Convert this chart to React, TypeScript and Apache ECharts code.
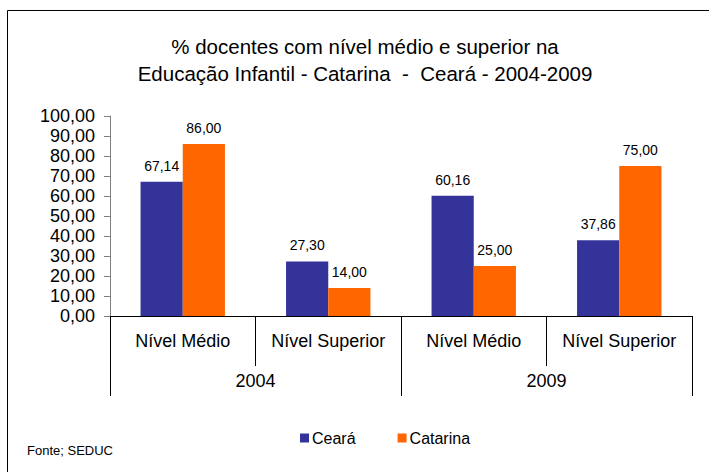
import React, { useEffect, useRef } from "react";
import * as echarts from "echarts";

const levels = ["Nível Médio", "Nível Superior", "Nível Médio", "Nível Superior"];
const years = ["2004", "2009"];
const ceara = [67.14, 27.3, 60.16, 37.86];
const catarina = [86.0, 14.0, 25.0, 75.0];
const seriesNames = ["Ceará", "Catarina"];
const titleLines = [
  "% docentes com nível médio e superior na",
  "Educação Infantil - Catarina  -  Ceará - 2004-2009",
];
const sourceNote = "Fonte; SEDUC";

const fmt = (v: number) => v.toFixed(2).replace(".", ",");
const FONT = "'Liberation Sans', Arial, sans-serif";

export default function App() {
  const ref = useRef<HTMLDivElement>(null);
  useEffect(() => {
    if (!ref.current) return;
    const chart = echarts.init(ref.current, undefined, { renderer: "svg" });
    const labelCfg = {
      show: true,
      position: "top" as const,
      distance: 9,
      fontSize: 14,
      fontFamily: FONT,
      color: "#000",
      formatter: (p: any) => fmt(p.value),
    };
    chart.setOption({
      animation: false,
      textStyle: { fontFamily: FONT },
      grid: { left: 110, right: 17, top: 116, bottom: 156, containLabel: false },
      legend: {
        data: seriesNames,
        left: 295,
        top: 425,
        itemWidth: 9,
        itemHeight: 9,
        itemGap: 42,
        icon: "rect",
        textStyle: { fontSize: 16, fontFamily: FONT, color: "#000", padding: [0, 0, 0, -2] },
      },
      xAxis: [
        {
          type: "category",
          data: levels,
          position: "bottom",
          axisLine: { show: true, lineStyle: { color: "#000", width: 1 } },
          axisTick: { show: true, length: 50, interval: 0, lineStyle: { color: "#000" } },
          axisLabel: { fontSize: 18, color: "#000", fontFamily: FONT, margin: 16, interval: 0 },
        },
        {
          type: "category",
          data: years,
          position: "bottom",
          axisLine: { show: false },
          axisTick: { show: true, length: 80, interval: 0, lineStyle: { color: "#000" } },
          axisLabel: { fontSize: 18, color: "#000", fontFamily: FONT, margin: 56, interval: 0 },
        },
      ],
      yAxis: {
        type: "value",
        min: 0,
        max: 100,
        interval: 10,
        axisLine: { show: true, lineStyle: { color: "#808080", width: 1 } },
        axisTick: { show: true, length: 6, lineStyle: { color: "#808080" } },
        splitLine: { show: false },
        axisLabel: {
          fontSize: 18,
          color: "#000",
          fontFamily: FONT,
          margin: 15,
          formatter: (v: number) => fmt(v),
        },
      },
      series: [
        {
          name: seriesNames[0],
          type: "bar",
          xAxisIndex: 0,
          data: ceara,
          itemStyle: { color: "#333399" },
          barGap: "0%",
          barCategoryGap: "42%",
          label: labelCfg,
        },
        {
          name: seriesNames[1],
          type: "bar",
          xAxisIndex: 0,
          data: catarina,
          itemStyle: { color: "#FF6600" },
          barGap: "0%",
          barCategoryGap: "42%",
          label: labelCfg,
        },
      ],
      graphic: [
        {
          type: "rect",
          shape: { x: 7.5, y: 10.5, width: 720, height: 480 },
          style: { fill: "none", stroke: "#000", lineWidth: 1 },
          silent: true,
        },
        {
          type: "text",
          x: 365,
          y: 46,
          style: {
            text: titleLines[0],
            fontSize: 20.5,
            fontFamily: FONT,
            fill: "#000",
            textAlign: "center",
            textVerticalAlign: "middle",
          },
        },
        {
          type: "text",
          x: 365,
          y: 73,
          style: {
            text: titleLines[1],
            fontSize: 20.5,
            fontFamily: FONT,
            fill: "#000",
            textAlign: "center",
            textVerticalAlign: "middle",
          },
        },
        {
          type: "text",
          x: 27,
          y: 450,
          style: {
            text: sourceNote,
            fontSize: 13,
            fontFamily: FONT,
            fill: "#000",
            textAlign: "left",
            textVerticalAlign: "middle",
          },
        },
      ],
    });
    return () => chart.dispose();
  }, []);
  return (
    <div
      ref={ref}
      style={{ position: "fixed", left: 0, top: 0, width: 709, height: 472, background: "#fff" }}
    />
  );
}
